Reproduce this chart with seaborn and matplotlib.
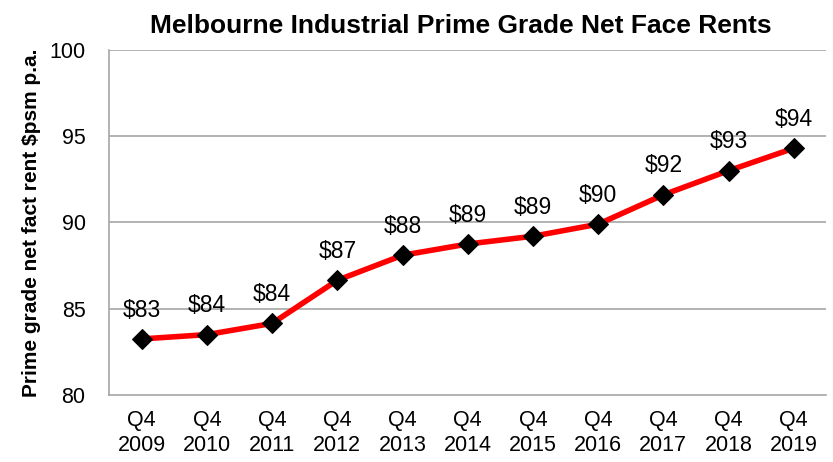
import numpy as np
import pandas as pd
import seaborn as sns
import matplotlib.pyplot as plt

# values
quarters = ["Q4\n2009", "Q4\n2010", "Q4\n2011", "Q4\n2012", "Q4\n2013", "Q4\n2014",
            "Q4\n2015", "Q4\n2016", "Q4\n2017", "Q4\n2018", "Q4\n2019"]
rents = [83.25, 83.5, 84.15, 86.65, 88.1, 88.75, 89.2, 89.9, 91.6, 93.0, 94.3]
labels = ["$83", "$84", "$84", "$87", "$88", "$89", "$89", "$90", "$92", "$93", "$94"]

sns.set_theme(style="white", rc={"text.color": "black", "axes.labelcolor": "black",
                                 "xtick.color": "black", "ytick.color": "black"})
plt.rcParams['font.family'] = ['Liberation Sans', 'DejaVu Sans']

df = pd.DataFrame({"pos": np.arange(len(quarters)), "rent": rents})

fig = plt.figure(figsize=(8.33, 4.62), dpi=100)
ax = fig.add_axes([0.131, 0.145, 0.861, 0.747])

grid_col = "#a6a6a6"
for y in [85, 90, 95, 100]:
    ax.axhline(y, color=grid_col, lw=1.2, zorder=0)

sns.lineplot(data=df, x="pos", y="rent", ax=ax, color="#ff0000", linewidth=4,
             marker="D", markersize=10.5, markerfacecolor="black",
             markeredgecolor="black", zorder=3)

# value labels above each point
for x, y, t in zip(df["pos"], df["rent"], labels):
    ax.annotate(t, (x, y), xytext=(0, 12.5), textcoords="offset points",
                ha="center", va="bottom", fontsize=16.5)

ax.set_xlim(-0.5, len(quarters) - 0.5)
ax.set_ylim(80, 100)
ax.set_yticks([80, 85, 90, 95, 100])
ax.set_xticks(df["pos"])
ax.set_xticklabels(quarters, linespacing=1.25)
ax.set_xticks(np.arange(-0.5, len(quarters)), minor=True)
ax.tick_params(axis="x", which="major", length=0, labelsize=15.5, pad=11)
ax.tick_params(axis="x", which="minor", length=6, color=grid_col, width=1.2, direction="out")
ax.tick_params(axis="y", length=0, labelsize=15.5, pad=17)

for s in ["top", "right"]:
    ax.spines[s].set_visible(False)
for s in ["left", "bottom"]:
    ax.spines[s].set_color(grid_col)
    ax.spines[s].set_linewidth(1.2)

ax.set_xlabel("")
ax.set_ylabel("Prime grade net fact rent $psm p.a.", fontsize=15, fontweight="bold", labelpad=6)
ax.set_title("Melbourne Industrial Prime Grade Net Face Rents", fontsize=19,
             fontweight="bold", pad=12, x=0.49)

fig.savefig("out.png", dpi=100)
